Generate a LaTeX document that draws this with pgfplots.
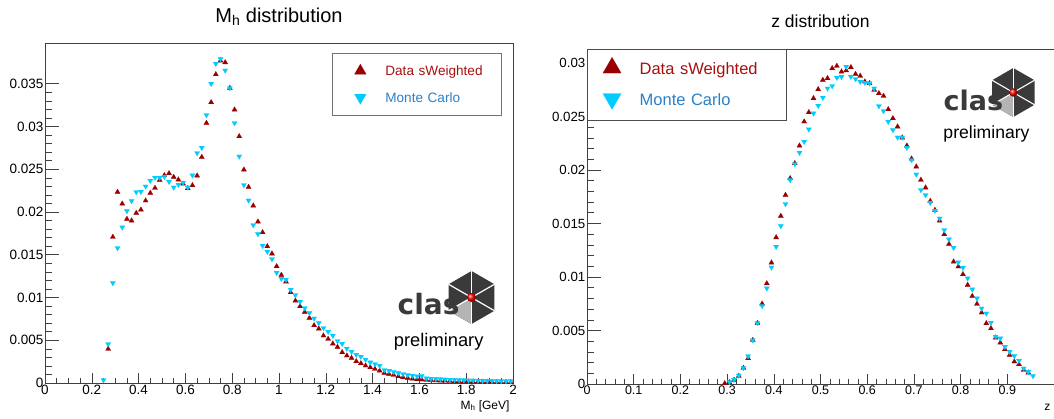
\documentclass[border=0pt]{standalone}
\usepackage{fontspec}
\setmainfont{Liberation Sans}
\newfontfamily\logofont{DejaVu Sans}
\usepackage{graphicx}
\usepackage{pgfplots}
\usepackage{pgfplotstable}
\pgfplotsset{compat=1.18}

\definecolor{datared}{HTML}{990000}
\definecolor{mcblue}{HTML}{00CCFF}
\definecolor{datatext}{HTML}{A81010}
\definecolor{mctext}{HTML}{2A80C8}
\definecolor{logogrey}{HTML}{3A3A3A}
\definecolor{logolight}{HTML}{B4B4B4}

% M_h distribution, data (sWeighted)
\pgfplotstableread{
x y
0.27 0.00398
0.29 0.01708
0.31 0.02234
0.33 0.02097
0.35 0.01918
0.37 0.01899
0.39 0.01988
0.41 0.02027
0.43 0.02133
0.45 0.02222
0.47 0.02281
0.49 0.02374
0.51 0.02429
0.53 0.02452
0.55 0.02409
0.57 0.02378
0.59 0.02331
0.61 0.02277
0.63 0.02312
0.65 0.02425
0.67 0.02643
0.69 0.03041
0.71 0.03283
0.73 0.03610
0.75 0.03770
0.77 0.03750
0.79 0.03450
0.81 0.03197
0.83 0.02885
0.85 0.02495
0.87 0.02292
0.89 0.02074
0.91 0.01887
0.93 0.01762
0.95 0.01598
0.97 0.01513
0.99 0.01365
1.01 0.01263
1.03 0.01185
1.05 0.01060
1.07 0.00963
1.09 0.00897
1.11 0.00830
1.13 0.00760
1.15 0.00674
1.17 0.00635
1.19 0.00554
1.21 0.00515
1.23 0.00460
1.25 0.00421
1.27 0.00359
1.29 0.00320
1.31 0.00292
1.33 0.00253
1.35 0.00230
1.37 0.00203
1.39 0.00183
1.41 0.00164
1.43 0.00144
1.45 0.00117
1.47 0.00105
1.49 0.00094
1.51 0.00078
1.53 0.00066
1.55 0.00058
1.57 0.00050
1.59 0.00043
1.61 0.00040
1.63 0.00036
1.65 0.00033
1.67 0.00030
1.69 0.00027
1.71 0.00025
1.73 0.00022
1.75 0.00020
1.77 0.00019
1.79 0.00017
1.81 0.00016
1.83 0.00015
1.85 0.00014
1.87 0.00013
1.89 0.00012
1.91 0.00011
1.93 0.00010
1.95 0.00010
1.97 0.00009
1.99 0.00009
}\mhdata

% M_h distribution, Monte Carlo
\pgfplotstableread{
x y
0.25 0.00035
0.27 0.00456
0.29 0.01170
0.31 0.01579
0.33 0.01821
0.35 0.02012
0.37 0.02129
0.39 0.02234
0.41 0.02238
0.43 0.02300
0.45 0.02366
0.47 0.02402
0.49 0.02402
0.51 0.02413
0.53 0.02355
0.55 0.02288
0.57 0.02320
0.59 0.02343
0.61 0.02288
0.63 0.02429
0.65 0.02690
0.67 0.02752
0.69 0.03134
0.71 0.03501
0.73 0.03735
0.75 0.03790
0.77 0.03657
0.79 0.03450
0.81 0.03041
0.83 0.02651
0.85 0.02316
0.87 0.02136
0.89 0.01848
0.91 0.01743
0.93 0.01606
0.95 0.01536
0.97 0.01450
0.99 0.01290
1.01 0.01220
1.03 0.01209
1.05 0.01092
1.07 0.01029
1.09 0.00951
1.11 0.00877
1.13 0.00819
1.15 0.00756
1.17 0.00702
1.19 0.00643
1.21 0.00600
1.23 0.00554
1.25 0.00491
1.27 0.00460
1.29 0.00402
1.31 0.00366
1.33 0.00331
1.35 0.00308
1.37 0.00273
1.39 0.00242
1.41 0.00222
1.43 0.00203
1.45 0.00152
1.47 0.00144
1.49 0.00129
1.51 0.00117
1.53 0.00105
1.55 0.00094
1.57 0.00086
1.59 0.00078
1.61 0.00082
1.63 0.00055
1.65 0.00050
1.67 0.00047
1.69 0.00044
1.71 0.00041
1.73 0.00039
1.75 0.00037
1.77 0.00035
1.79 0.00033
1.81 0.00031
1.83 0.00030
1.85 0.00028
1.87 0.00027
1.89 0.00026
1.91 0.00025
1.93 0.00024
1.95 0.00023
1.97 0.00022
1.99 0.00021
}\mhmc

% z distribution, data (sWeighted)
\pgfplotstableread{
x y
0.295 0.00006
0.305 0.00015
0.315 0.00037
0.325 0.00075
0.335 0.00150
0.345 0.00240
0.355 0.00410
0.365 0.00570
0.375 0.00750
0.385 0.00940
0.395 0.01134
0.405 0.01370
0.415 0.01570
0.425 0.01766
0.435 0.01922
0.445 0.02062
0.455 0.02227
0.465 0.02452
0.475 0.02539
0.485 0.02670
0.495 0.02754
0.505 0.02841
0.515 0.02857
0.525 0.02950
0.535 0.02972
0.545 0.02919
0.555 0.02930
0.565 0.02960
0.575 0.02897
0.585 0.02879
0.595 0.02826
0.605 0.02810
0.615 0.02748
0.625 0.02717
0.635 0.02692
0.645 0.02567
0.655 0.02483
0.665 0.02405
0.675 0.02302
0.685 0.02227
0.695 0.02106
0.705 0.02031
0.715 0.01907
0.725 0.01835
0.735 0.01710
0.745 0.01626
0.755 0.01526
0.765 0.01399
0.775 0.01308
0.785 0.01143
0.795 0.01097
0.805 0.01025
0.815 0.00925
0.825 0.00822
0.835 0.00748
0.845 0.00667
0.855 0.00567
0.865 0.00520
0.875 0.00433
0.885 0.00386
0.895 0.00324
0.905 0.00271
0.915 0.00209
0.925 0.00184
0.935 0.00131
0.945 0.00106
}\zdata

% z distribution, Monte Carlo
\pgfplotstableread{
x y
0.305 0.00020
0.315 0.00040
0.325 0.00080
0.335 0.00150
0.345 0.00260
0.355 0.00410
0.365 0.00570
0.375 0.00730
0.385 0.00894
0.395 0.01090
0.405 0.01283
0.415 0.01477
0.425 0.01682
0.435 0.01907
0.445 0.02056
0.455 0.02162
0.465 0.02265
0.475 0.02380
0.485 0.02530
0.495 0.02601
0.505 0.02676
0.515 0.02763
0.525 0.02785
0.535 0.02863
0.545 0.02872
0.555 0.02966
0.565 0.02872
0.575 0.02850
0.585 0.02826
0.595 0.02816
0.605 0.02810
0.615 0.02763
0.625 0.02598
0.635 0.02551
0.645 0.02452
0.655 0.02374
0.665 0.02305
0.675 0.02305
0.685 0.02209
0.695 0.02093
0.705 0.01959
0.715 0.01813
0.725 0.01766
0.735 0.01695
0.745 0.01620
0.755 0.01548
0.765 0.01439
0.775 0.01352
0.785 0.01274
0.795 0.01137
0.805 0.01087
0.815 0.00988
0.825 0.00885
0.835 0.00801
0.845 0.00707
0.855 0.00660
0.865 0.00573
0.875 0.00442
0.885 0.00427
0.895 0.00349
0.905 0.00302
0.915 0.00262
0.925 0.00218
0.935 0.00146
0.945 0.00115
0.955 0.00075
}\zmc

\pgfplotsset{
  rootframe/.style={
    scale only axis, anchor=south west,
    scaled x ticks=false, scaled y ticks=false,
    axis line style={black!75, line width=0.7pt},
    tick style={black!75, line width=0.6pt},
    tick align=inside, tick pos=left,
  },
  datamarks/.style={only marks, mark=triangle*, datared,
    mark options={draw=datared, fill=datared, line width=0.2pt}},
  mcmarks/.style={only marks, mark=triangle*, mcblue,
    mark options={rotate=180, draw=mcblue, fill=mcblue, line width=0.2pt}},
}

\begin{document}
\begin{tikzpicture}
\useasboundingbox (0,0) rectangle (1054pt,418pt);

% ---------------- left panel: M_h ----------------
\begin{axis}[rootframe,
  at={(45pt,35pt)}, width=468pt, height=340pt,
  xmin=0, xmax=2, ymin=0, ymax=0.03977,
  ytick=\empty,
  xtick={0,0.2,0.4,0.6,0.8,1,1.2,1.4,1.6,1.8,2},
  xticklabels={0,0.2,0.4,0.6,0.8,1,1.2,1.4,1.6,1.8,2},
  minor x tick num=3,
  major tick length=10pt, minor tick length=5pt,
  xticklabel style={font=\fontsize{13.5}{16}\selectfont, inner ysep=2pt},
]
\end{axis}

\begin{axis}[rootframe,
  at={(45pt,35pt)}, width=468pt, height=340pt,
  xmin=0, xmax=2, ymin=0, ymax=0.03977,
  xtick=\empty,
  ytick={0,0.005,0.01,0.015,0.02,0.025,0.03,0.035},
  yticklabels={0,0.005,0.01,0.015,0.02,0.025,0.03,0.035},
  minor y tick num=4,
  major tick length=14pt, minor tick length=7pt,
  yticklabel style={font=\fontsize{13.5}{16}\selectfont, inner xsep=1.5pt},
  legend style={at={(0.6126,0.9697)}, anchor=north west,
    draw=black!55, line width=0.7pt, fill=white,
    inner xsep=0pt, inner ysep=0pt, row sep=-8.3pt,
    font=\fontsize{13.6}{16}\selectfont,
    cells={anchor=base west},
    nodes={inner sep=0pt, text width=115.7pt, text height=21.7pt,
      text depth=13.3pt, anchor=base west}},
  legend image code/.code={
    \path[draw=none, fill=none] (0pt,-2pt) rectangle (53.3pt,2pt);
    \path[#1, draw=none, fill=none] plot[mark size=6.7pt] coordinates {(28.3pt,4.5pt)};},
]
\addplot[datamarks, mark size=3pt] table[x=x, y=y] {\mhdata};
\addlegendentry{\textcolor{datatext}{Data sWeighted}}
\addplot[mcmarks, mark size=3pt] table[x=x, y=y] {\mhmc};
\addlegendentry{\textcolor{mctext}{Monte Carlo}}
\end{axis}

\node[anchor=base, font=\fontsize{20}{22}\selectfont] at (279pt,395.3pt)
  {M\textsubscript{h} distribution};
\node[anchor=base east, font=\fontsize{12}{14}\selectfont] at (513pt,9pt)
  {M\textsubscript{h} [GeV]};

% clas logo, left
\begin{scope}[shift={(471.5pt,120.5pt)}]
  \def\R{26.5pt}
  \fill[logogrey] (90:\R) -- (30:\R) -- (-30:\R) -- (-90:\R) -- (-150:\R) -- (150:\R) -- cycle;
  \fill[logolight] (0,0) -- (-90:\R) -- (-150:\R) -- cycle;
  \foreach \a in {90,30,-30,-90,-150,150} \draw[white, line width=1.2pt] (0,0) -- (\a:\R);
  \node[anchor=base west, inner sep=0pt, text=logogrey,
    font=\logofont\bfseries\fontsize{28}{28}\selectfont] at (-74pt,-17pt) {clas};
  \shade[ball color=red] (0,0) circle (4.5pt);
  \node[anchor=base, inner sep=0pt, font=\fontsize{18.3}{20}\selectfont]
    at (-32.8pt,-48.5pt) {preliminary};
\end{scope}

% ---------------- right panel: z ----------------
\begin{axis}[rootframe,
  at={(587pt,34pt)}, width=467pt, height=334.7pt,
  xmin=0, xmax=1, ymin=0, ymax=0.03128,
  ytick=\empty,
  xtick={0,0.1,0.2,0.3,0.4,0.5,0.6,0.7,0.8,0.9},
  xticklabels={0,0.1,0.2,0.3,0.4,0.5,0.6,0.7,0.8,0.9},
  minor x tick num=4,
  major tick length=10pt, minor tick length=5pt,
  xticklabel style={font=\fontsize{12.5}{15}\selectfont, inner ysep=2pt},
]
\end{axis}

\begin{axis}[rootframe,
  at={(587pt,34pt)}, width=467pt, height=334.7pt,
  xmin=0, xmax=1, ymin=0, ymax=0.03128,
  xtick=\empty,
  ytick={0,0.005,0.01,0.015,0.02,0.025,0.03},
  yticklabels={0,0.005,0.01,0.015,0.02,0.025,0.03},
  minor y tick num=4,
  major tick length=14pt, minor tick length=7pt,
  yticklabel style={font=\fontsize{13.3}{16}\selectfont, inner xsep=1.5pt},
  legend style={at={(0,1)}, anchor=north west,
    draw=black!70, line width=0.7pt, fill=white,
    inner xsep=0pt, inner ysep=0pt, row sep=-8.7pt,
    font=\fontsize{16.5}{19}\selectfont,
    cells={anchor=base west},
    nodes={inner sep=0pt, text width=146.4pt, text height=24.7pt,
      text depth=15pt, anchor=base west}},
  legend image code/.code={
    \path[draw=none, fill=none] (0pt,-2pt) rectangle (52.3pt,2pt);
    \path[#1, draw=none, fill=none] plot[mark size=10.5pt] coordinates {(24.7pt,6.5pt)};},
]
\addplot[datamarks, mark size=3pt] table[x=x, y=y] {\zdata};
\addlegendentry{\textcolor{datatext}{Data sWeighted}}
\addplot[mcmarks, mark size=3pt] table[x=x, y=y] {\zmc};
\addlegendentry{\textcolor{mctext}{Monte Carlo}}
\end{axis}

\node[anchor=base, font=\fontsize{17.5}{20}\selectfont] at (820.5pt,390.7pt)
  {z distribution};
\node[anchor=base east, font=\fontsize{12}{14}\selectfont] at (1054pt,7.3pt) {z};

% clas logo, right
\begin{scope}[shift={(1013.3pt,325.5pt)}]
  \def\R{24.5pt}
  \fill[logogrey] (90:\R) -- (30:\R) -- (-30:\R) -- (-90:\R) -- (-150:\R) -- (150:\R) -- cycle;
  \fill[logolight] (0,0) -- (-90:\R) -- (-150:\R) -- cycle;
  \foreach \a in {90,30,-30,-90,-150,150} \draw[white, line width=1.1pt] (0,0) -- (\a:\R);
  \node[anchor=base west, inner sep=0pt, text=logogrey,
    font=\logofont\bfseries\fontsize{27}{27}\selectfont] at (-70pt,-18.5pt) {clas};
  \shade[ball color=red] (0,0) circle (4.2pt);
  \node[anchor=base, inner sep=0pt, font=\fontsize{17.6}{20}\selectfont]
    at (-26.8pt,-45.8pt) {preliminary};
\end{scope}
\end{tikzpicture}
\end{document}
